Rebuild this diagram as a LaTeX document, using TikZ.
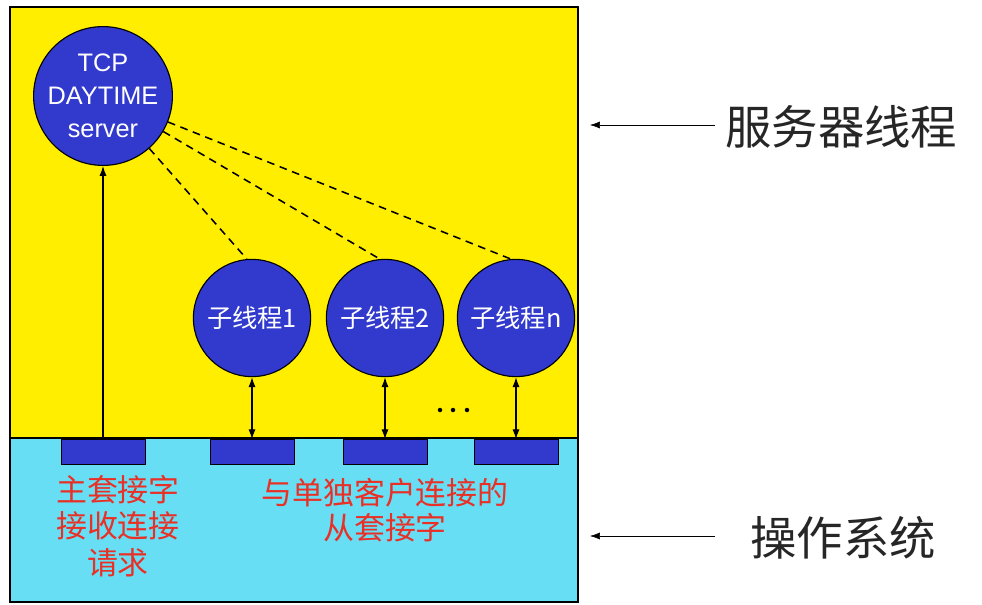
\documentclass[tikz,border=0pt]{standalone}
\usepackage{fontspec}
\setmainfont{Liberation Sans}
\newfontfamily\cjk{Noto Sans CJK SC}
\usetikzlibrary{arrows.meta}

\definecolor{boardyellow}{RGB}{255,238,0}
\definecolor{oscyan}{RGB}{104,222,245}
\definecolor{threadblue}{RGB}{50,58,205}
\definecolor{notered}{RGB}{232,48,38}

\begin{document}
\begin{tikzpicture}[x=0.025cm, y=-0.025cm,
    thread/.style={circle, draw=black, thick, fill=threadblue, text=white, inner sep=0pt, align=center},
    sock/.style={rectangle, draw=black, fill=threadblue, minimum width=2.1cm, minimum height=0.625cm, inner sep=0pt},
    note/.style={text=notered, align=center, inner sep=0pt},
    sidelabel/.style={text=black!85, inner sep=0pt, anchor=west, font=\cjk\fontsize{33}{40}\selectfont},
    link/.style={line width=1.1pt, dash pattern=on 5.5pt off 4pt},
    tip/.style={-{Latex[length=7pt,width=5pt]}, thick},
    twoway/.style={{Latex[length=7pt,width=5pt]}-{Latex[length=7pt,width=5pt]}, thick}]
        \useasboundingbox (0, 0) rectangle (982, 605);
        % server part and operating system part
        \draw[thick, fill=boardyellow] (10, 7) rectangle (578, 438);
        \draw[thick, fill=oscyan] (10, 438) rectangle (578, 602);

        \node[thread, minimum size=3.2cm, font=\fontsize{18}{23.5}\selectfont] (server) at (103, 96) {TCP\\DAYTIME\\server};
        \node[thread, minimum size=2.93cm, font=\cjk\fontsize{18}{22}\selectfont] (child1) at (252, 318) {子线程1};
        \node[thread, minimum size=2.93cm, font=\cjk\fontsize{18}{22}\selectfont] (child2) at (385, 318) {子线程2};
        \node[thread, minimum size=2.93cm, font=\cjk\fontsize{18}{22}\selectfont] (childn) at (516, 318) {子线程n};

        \node[sock] (mainsock) at (103, 452) {};
        \node[sock] (sock1) at (252, 452) {};
        \node[sock] (sock2) at (385, 452) {};
        \node[sock] (sockn) at (516, 452) {};

        \draw[tip] (mainsock.north) -- (server.south);
        \draw[twoway] (child1.south) -- (sock1.north);
        \draw[twoway] (child2.south) -- (sock2.north);
        \draw[twoway] (childn.south) -- (sockn.north);

        \draw[link] (server) -- (child1.95);
        \draw[link] (server) -- (child2.95);
        \draw[link] (server) -- (childn.95);

        \fill (440, 410) circle (1.6pt);
        \fill (453, 410) circle (1.6pt);
        \fill (467, 410) circle (1.6pt);

        \node[note, font=\cjk\fontsize{22}{26}\selectfont] (mainnote) at (118, 526) {主套接字\\接收连接\\请求};
        \node[note, font=\cjk\fontsize{22}{24.5}\selectfont] (slavenote) at (385, 510) {与单独客户连接的\\从套接字};

        % labels on the right
        \coordinate (servertip) at (590, 125);
        \coordinate (ostip) at (590, 536);
        \node[sidelabel] (serverlabel) at (725, 127) {服务器线程};
        \node[sidelabel] (oslabel) at (750, 538) {操作系统};
        \draw[tip, thin] (serverlabel.west) ++(-10, -2) -- (servertip);
        \draw[tip, thin] (oslabel.west) ++(-35, -2) -- (ostip);
    \end{tikzpicture}
\end{document}
